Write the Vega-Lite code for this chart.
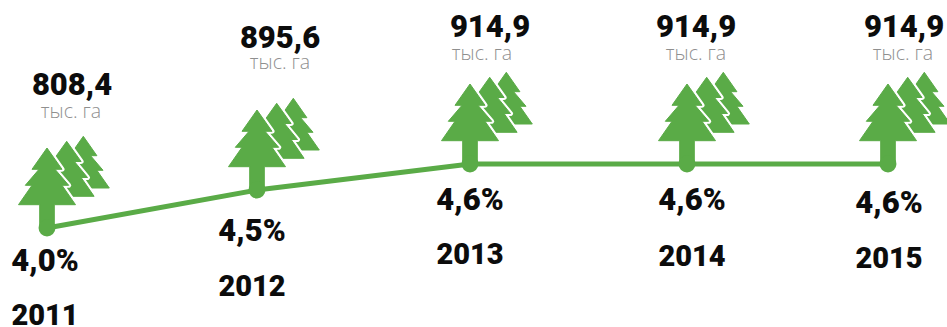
{
"$schema":"https://vega.github.io/schema/vega-lite/v6.json",
"width":947,"height":327,"padding":0,"autosize":{"type":"none"},"background":"white",
"view":{"stroke":null},
"data":{"values":[
{"year":2011,"pct":4.0,"pctLabel":"4,0%","area":"808,4","unit":"тыс. га"},
{"year":2012,"pct":4.5,"pctLabel":"4,5%","area":"895,6","unit":"тыс. га"},
{"year":2013,"pct":4.6,"pctLabel":"4,6%","area":"914,9","unit":"тыс. га"},
{"year":2014,"pct":4.6,"pctLabel":"4,6%","area":"914,9","unit":"тыс. га"},
{"year":2015,"pct":4.6,"pctLabel":"4,6%","area":"914,9","unit":"тыс. га"}
]},
"encoding":{
  "x":{"field":"year","type":"quantitative","axis":null,"scale":{"domain":[2011,2012,2013,2014,2015],"range":[47,257,470,687,888]}},
  "y":{"field":"pct","type":"quantitative","axis":null,"scale":{"domain":[4.0,4.5,4.6],"range":[228,190,164],"zero":false,"nice":false}}
},
"resolve":{"scale":{"x":"independent","y":"independent"},"axis":{"x":"independent","y":"independent"}},
"layer":[
{"mark":{"type":"line","color":"#5aab47","strokeWidth":5}},
{"mark":{"type":"point","filled":true,"opacity":1,"size":4,"color":"#5aab47","stroke":"#5aab47","strokeWidth":1,"strokeJoin":"round",
  "shape":"M36.3 -91.7L49.9 -72.3L43.6 -72.3L56 -57.7L49.9 -57.7L62.3 -40L10.3 -40L22.7 -57.7L16.6 -57.7L29 -72.3L22.7 -72.3Z"}},
{"mark":{"type":"point","filled":true,"opacity":1,"size":4,"color":"white","stroke":"white","strokeWidth":5,"strokeJoin":"round",
  "shape":"M19.7 -86.7L34.1 -66.5L27.4 -66.5L40.5 -50.5L34.1 -50.5L47.1 -31.7L-7.7 -31.7L5.3 -50.5L-1.1 -50.5L12 -66.5L5.3 -66.5Z"}},
{"mark":{"type":"point","filled":true,"opacity":1,"size":4,"color":"#5aab47","stroke":"#5aab47","strokeWidth":1,"strokeJoin":"round",
  "shape":"M19.7 -86.7L34.1 -66.5L27.4 -66.5L40.5 -50.5L34.1 -50.5L47.1 -31.7L-7.7 -31.7L5.3 -50.5L-1.1 -50.5L12 -66.5L5.3 -66.5Z"}},
{"mark":{"type":"point","filled":true,"opacity":1,"size":4,"color":"white","stroke":"white","strokeWidth":5,"strokeJoin":"round",
  "shape":"M0 -80L15 -58.7L8 -58.7L21.7 -42.7L15 -42.7L28.5 -23.3L-28.5 -23.3L-15 -42.7L-21.7 -42.7L-8 -58.7L-15 -58.7Z"}},
{"mark":{"type":"point","filled":true,"opacity":1,"size":4,"color":"#5aab47","stroke":"#5aab47","strokeWidth":1,"strokeJoin":"round",
  "shape":"M0 -80L15 -58.7L8 -58.7L21.7 -42.7L15 -42.7L28.5 -23.3L7.3 -23.3L7.3 0L-7.3 0L-7.3 -23.3L-28.5 -23.3L-15 -42.7L-21.7 -42.7L-8 -58.7L-15 -58.7Z"}},
{"mark":{"type":"circle","opacity":1,"size":284,"color":"#5aab47"}},
{"mark":{"type":"text","font":"Roboto","fontWeight":900,"fontSize":31,"color":"#0c0c0c","align":"center","baseline":"middle"},
 "encoding":{"text":{"field":"area","type":"nominal"},
  "x":{"field":"year","type":"quantitative","axis":null,"scale":{"domain":[2011,2012,2013,2014,2015],"range":[72,280,490,696,904]}},
  "y":{"field":"year","type":"quantitative","axis":null,"scale":{"domain":[2011,2012,2013,2014,2015],"range":[86,39,28,28,28]}}}},
{"mark":{"type":"text","font":"Open Sans","fontWeight":300,"fontSize":19.5,"color":"#8f8f8f","align":"center","baseline":"middle"},
 "encoding":{"text":{"field":"unit","type":"nominal"},
  "x":{"field":"year","type":"quantitative","axis":null,"scale":{"domain":[2011,2012,2013,2014,2015],"range":[71,280,482,696,903]}},
  "y":{"field":"year","type":"quantitative","axis":null,"scale":{"domain":[2011,2012,2013,2014,2015],"range":[112,63,54,54,54]}}}},
{"mark":{"type":"text","font":"Roboto","fontWeight":900,"fontSize":31,"color":"#0c0c0c","align":"center","baseline":"middle"},
 "encoding":{"text":{"field":"pctLabel","type":"nominal"},
  "x":{"field":"year","type":"quantitative","axis":null,"scale":{"domain":[2011,2012,2013,2014,2015],"range":[45,252,470,692,889]}},
  "y":{"field":"year","type":"quantitative","axis":null,"scale":{"domain":[2011,2012,2013,2014,2015],"range":[262,232,201,201,204]}}}},
{"mark":{"type":"text","font":"Roboto","fontWeight":900,"fontSize":29,"color":"#0c0c0c","align":"center","baseline":"middle"},
 "encoding":{"text":{"field":"year","type":"nominal"},
  "x":{"field":"year","type":"quantitative","axis":null,"scale":{"domain":[2011,2012,2013,2014,2015],"range":[45,252,470,692,889]}},
  "y":{"field":"year","type":"quantitative","axis":null,"scale":{"domain":[2011,2012,2013,2014,2015],"range":[316,287,255,257,259]}}}}
]}
